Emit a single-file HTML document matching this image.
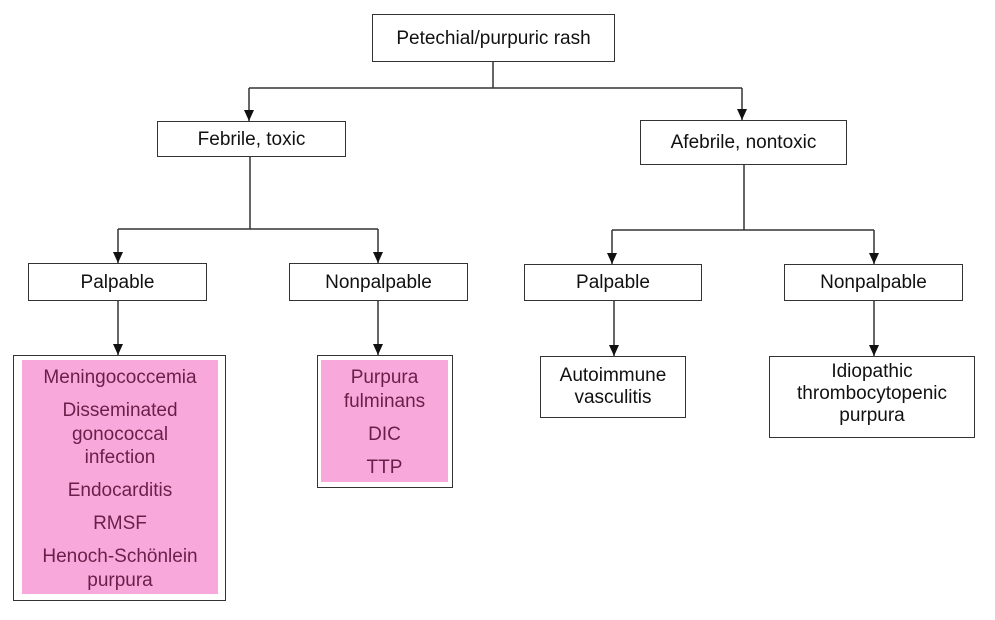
<!DOCTYPE html>
<html><head><style>
body{margin:0;width:995px;height:620px;background:#fff;position:relative;overflow:hidden;font-family:"Liberation Sans",Arial,sans-serif;}
.b{position:absolute;box-sizing:border-box;border:1.5px solid #333;background:#fff;display:flex;align-items:center;justify-content:center;text-align:center;font-size:19px;color:#111;line-height:23px;}
.p{position:absolute;background:#f9a8dc;color:#6a1f4a;font-size:19px;text-align:center;line-height:23.5px;box-sizing:border-box;}
.p div{margin-bottom:9.5px}
svg{position:absolute;left:0;top:0}
</style></head><body>
<svg width="995" height="620">
<defs><marker id="a" markerWidth="12" markerHeight="12" refX="11" refY="5" orient="auto" markerUnits="userSpaceOnUse"><path d="M0,0 L11,5 L0,10 z" fill="#111"/></marker></defs>
<g stroke="#333" stroke-width="1.5" fill="none">
<line x1="493" y1="62" x2="493" y2="88"/>
<line x1="249" y1="88" x2="742" y2="88"/>
<line x1="249" y1="88" x2="249" y2="121" marker-end="url(#a)"/>
<line x1="742" y1="88" x2="742" y2="120" marker-end="url(#a)"/>
<line x1="250" y1="157" x2="250" y2="229"/>
<line x1="118" y1="229" x2="378" y2="229"/>
<line x1="118" y1="229" x2="118" y2="263" marker-end="url(#a)"/>
<line x1="378" y1="229" x2="378" y2="263" marker-end="url(#a)"/>
<line x1="744" y1="165" x2="744" y2="230"/>
<line x1="612" y1="230" x2="874" y2="230"/>
<line x1="612" y1="230" x2="612" y2="264" marker-end="url(#a)"/>
<line x1="874" y1="230" x2="874" y2="264" marker-end="url(#a)"/>
<line x1="118" y1="301" x2="118" y2="355" marker-end="url(#a)"/>
<line x1="378" y1="301" x2="378" y2="355" marker-end="url(#a)"/>
<line x1="614" y1="301" x2="614" y2="356" marker-end="url(#a)"/>
<line x1="874" y1="301" x2="874" y2="356" marker-end="url(#a)"/>
</g></svg>
<div class="b" style="left:372px;top:14px;width:243px;height:48px">Petechial/purpuric rash</div>
<div class="b" style="left:157px;top:121px;width:189px;height:36px">Febrile, toxic</div>
<div class="b" style="left:640px;top:120px;width:207px;height:45px">Afebrile, nontoxic</div>
<div class="b" style="left:28px;top:263px;width:179px;height:38px">Palpable</div>
<div class="b" style="left:289px;top:263px;width:179px;height:38px">Nonpalpable</div>
<div class="b" style="left:524px;top:264px;width:178px;height:37px">Palpable</div>
<div class="b" style="left:784px;top:264px;width:179px;height:37px">Nonpalpable</div>
<div class="b" style="left:540px;top:356px;width:146px;height:62px;line-height:22px">Autoimmune<br>vasculitis</div>
<div class="b" style="left:769px;top:356px;width:206px;height:82px;line-height:22px;padding-bottom:6px">Idiopathic<br>thrombocytopenic<br>purpura</div>
<div class="b" style="left:13px;top:355px;width:213px;height:246px"></div>
<div class="p" style="left:22px;top:360px;width:196px;height:234px;padding-top:6px">
<div>Meningococcemia</div><div>Disseminated<br>gonococcal<br>infection</div><div>Endocarditis</div><div>RMSF</div><div>Henoch-Schönlein<br>purpura</div></div>
<div class="b" style="left:317px;top:355px;width:136px;height:133px"></div>
<div class="p" style="left:321px;top:360px;width:127px;height:122px;padding-top:6px">
<div>Purpura<br>fulminans</div><div>DIC</div><div>TTP</div></div>
</body></html>
